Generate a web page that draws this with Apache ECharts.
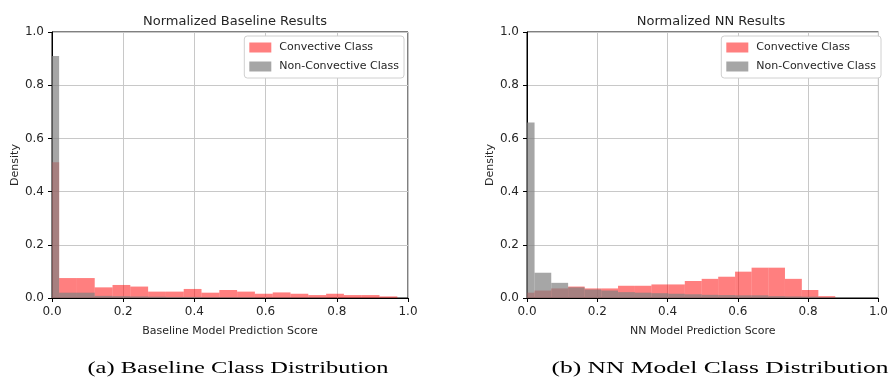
<!DOCTYPE html>
<html>
<head>
<meta charset="utf-8">
<script src="https://cdn.jsdelivr.net/npm/echarts@6/dist/echarts.min.js"></script>
<style>
html,body{margin:0;padding:0;background:#fff;}
#c{width:891px;height:381px;}
</style>
</head>
<body>
<div id="c"></div>
<script>
// ---- Data ----
const seriesNames = ['Convective Class', 'Non-Convective Class'];
const xTicks = [0, 0.2, 0.4, 0.6, 0.8, 1.0];

// Baseline histogram
const baselineEdges = [0, 0.02, 0.07, 0.12, 0.17, 0.22, 0.27, 0.32, 0.37, 0.42, 0.47, 0.52, 0.57, 0.62, 0.67, 0.72, 0.77, 0.82, 0.87, 0.92, 0.97];
const baselineConvective = [0.51, 0.075, 0.075, 0.040, 0.049, 0.043, 0.024, 0.024, 0.034, 0.020, 0.030, 0.024, 0.016, 0.021, 0.016, 0.011, 0.016, 0.011, 0.011, 0.006];
const baselineNonConvective = [0.91, 0.020, 0.020, 0.008, 0.007, 0.006, 0.005, 0.004, 0.004, 0.003, 0.003, 0.003, 0.002, 0.002, 0.002, 0.002, 0.001, 0.001, 0.001, 0.001];

// NN histogram
const nnEdges = [0, 0.0215, 0.069, 0.117, 0.164, 0.212, 0.259, 0.307, 0.354, 0.402, 0.449, 0.497, 0.544, 0.592, 0.639, 0.687, 0.734, 0.782, 0.829, 0.877];
const nnConvective = [0.020, 0.028, 0.036, 0.043, 0.036, 0.036, 0.046, 0.046, 0.051, 0.051, 0.064, 0.072, 0.080, 0.099, 0.114, 0.114, 0.072, 0.030, 0.007];
const nnNonConvective = [0.66, 0.095, 0.057, 0.040, 0.032, 0.028, 0.022, 0.020, 0.018, 0.016, 0.014, 0.012, 0.011, 0.010, 0.010, 0.007, 0.006, 0.005, 0.003];

const titles = ['Normalized Baseline Results', 'Normalized NN Results'];
const xNames = ['Baseline Model Prediction Score', 'NN Model Prediction Score'];
const captions = ['(a) Baseline Class Distribution', '(b) NN Model Class Distribution'];

// ---- Build ----
function bins(edges, heights) {
  return heights.map((h, i) => [edges[i], edges[i + 1], h]);
}
function histSeries(name, edges, heights, idx, color) {
  return {
    type: 'custom',
    name: name,
    xAxisIndex: idx,
    yAxisIndex: idx,
    clip: true,
    itemStyle: { color: color },
    encode: { x: [0, 1], y: 2 },
    data: bins(edges, heights),
    renderItem: function (params, api) {
      const p0 = api.coord([api.value(0), api.value(2)]);
      const p1 = api.coord([api.value(1), 0]);
      return {
        type: 'rect',
        shape: { x: p0[0], y: p0[1], width: p1[0] - p0[0], height: p1[1] - p0[1] },
        style: { fill: color }
      };
    }
  };
}

const red = 'rgba(255,0,0,0.5)';
const gray = 'rgba(128,128,128,0.7)';
const font = 'DejaVu Sans';
const txt = '#262626';

const grids = [
  { left: 52, right: 483, top: 32, bottom: 83 },
  { left: 527, right: 6, top: 32, bottom: 83 }
];

function xAxis(i) {
  return {
    type: 'value', gridIndex: i, min: 0, max: 1, interval: 0.2,
    name: xNames[i], nameLocation: 'middle', nameGap: 28,
    nameTextStyle: { fontFamily: font, fontSize: 11, color: txt },
    axisLine: { show: true, onZero: false, lineStyle: { color: '#000', width: 1 } },
    axisTick: { show: true, length: 4, lineStyle: { color: '#000' } },
    axisLabel: { fontFamily: font, fontSize: 12, color: txt, margin: 8, formatter: v => v.toFixed(1) },
    splitLine: { show: true, lineStyle: { color: '#c8c8c8', width: 1 } }
  };
}
function yAxis(i) {
  return {
    type: 'value', gridIndex: i, min: 0, max: 1, interval: 0.2,
    name: 'Density', nameLocation: 'middle', nameGap: 30,
    nameTextStyle: { fontFamily: font, fontSize: 11, color: txt },
    axisLine: { show: true, onZero: false, lineStyle: { color: '#000', width: 1 } },
    axisTick: { show: true, length: 4, lineStyle: { color: '#000' } },
    axisLabel: { fontFamily: font, fontSize: 12, color: txt, margin: 8, formatter: v => v.toFixed(1) },
    splitLine: { show: true, lineStyle: { color: '#c8c8c8', width: 1 } }
  };
}
function legend(i, right) {
  return {
    data: seriesNames, orient: 'vertical', right: right, top: 36,
    itemWidth: 22, itemHeight: 10, itemGap: 8,
    icon: 'rect',
    backgroundColor: '#fff', borderColor: '#d0d0d0', borderWidth: 1, borderRadius: 3,
    padding: [6, 5, 6, 5],
    selectedMode: false,
    textStyle: { fontFamily: font, fontSize: 11, color: txt, padding: [0, 0, 0, 3] }
  };
}

const chart = echarts.init(document.getElementById('c'), null, { renderer: 'canvas' });
chart.setOption({
  backgroundColor: '#fff',
  animation: false,
  title: [
    { text: titles[0], left: 230, top: 10, textAlign: 'center', textStyle: { fontFamily: font, fontSize: 13, fontWeight: 'normal', color: txt } },
    { text: titles[1], left: 706, top: 10, textAlign: 'center', textStyle: { fontFamily: font, fontSize: 13, fontWeight: 'normal', color: txt } }
  ],
  grid: grids.map(g => Object.assign({ show: true, borderColor: '#000', borderWidth: 1, backgroundColor: 'transparent' }, g)),
  xAxis: [xAxis(0), xAxis(1)],
  yAxis: [yAxis(0), yAxis(1)],
  legend: [legend(0, 487), legend(1, 10)],
  series: [
    histSeries(seriesNames[0], baselineEdges, baselineConvective, 0, red),
    histSeries(seriesNames[1], baselineEdges, baselineNonConvective, 0, gray),
    histSeries(seriesNames[0], nnEdges, nnConvective, 1, red),
    histSeries(seriesNames[1], nnEdges, nnNonConvective, 1, gray)
  ],
  graphic: [
    { type: 'text', x: 238, y: 369, scaleX: 1.44, style: { text: captions[0], font: '17px "Liberation Serif"', fill: '#000', align: 'center', verticalAlign: 'middle' } },
    { type: 'text', x: 720, y: 369, scaleX: 1.5, style: { text: captions[1], font: '17px "Liberation Serif"', fill: '#000', align: 'center', verticalAlign: 'middle' } }
  ]
});
</script>
</body>
</html>
